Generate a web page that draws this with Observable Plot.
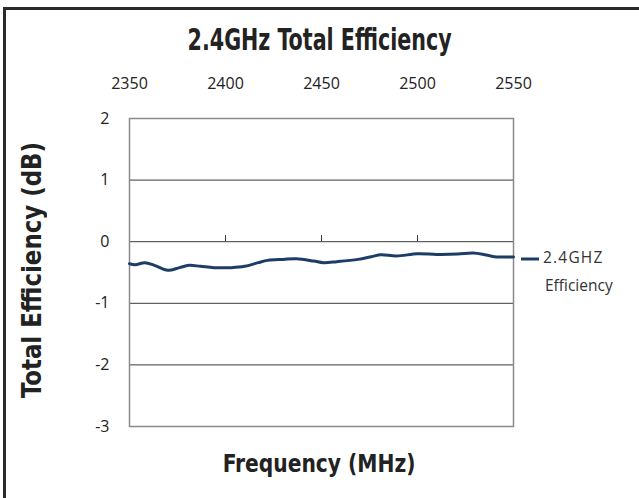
<!DOCTYPE html>
<html>
<head>
<meta charset="utf-8">
<script src="https://cdn.jsdelivr.net/npm/d3@7"></script>
<script src="https://cdn.jsdelivr.net/npm/@observablehq/plot@0.6"></script>
<style>
  html, body { margin: 0; padding: 0; background: #fff; }
  #wrap { position: relative; width: 639px; height: 498px; overflow: hidden; background: #fff; }
  #border { position: absolute; left: 3px; top: 7px; width: 700px; height: 600px;
            border-left: 3px solid #2a2a2a; border-top: 3px solid #2a2a2a; }
  .cond { font-family: "DejaVu Sans Condensed", "DejaVu Sans", sans-serif; font-weight: bold; color: #222;
          display: inline-block; white-space: nowrap; }
  .title { position: absolute; left: 0; width: 639px; text-align: center; top: 22px; }
  .title span { font-size: 30px; transform: scaleX(0.765); }
  .xlabel { position: absolute; left: 0; width: 639px; text-align: center; top: 449px; }
  .xlabel span { font-size: 25px; transform: scaleX(0.9); }
  .ylabel { position: absolute; left: 32px; top: 270px; transform: translate(-50%, -50%) rotate(-90deg); }
  .ylabel span { font-size: 26px; transform: scaleX(0.98); }
  .legend { position: absolute; left: 520px; top: 243px; font-family: "Open Sans", sans-serif;
            font-size: 15.5px; color: #333; line-height: 28px; }
  .legend svg { vertical-align: middle; margin-right: 4px; }
  #chart { position: absolute; left: 0; top: 0; }
</style>
</head>
<body>
<div id="wrap">
  <div id="chart"></div>
  <div id="border"></div>
  <div class="title"><span class="cond">2.4GHz Total Efficiency</span></div>
  <div class="ylabel"><span class="cond">Total Efficiency (dB)</span></div>
  <div class="xlabel"><span class="cond">Frequency (MHz)</span></div>
  <div class="legend">
    <div><svg width="19" height="6"><line x1="1" y1="3" x2="19" y2="3" stroke="#1c3d66" stroke-width="3"/></svg><span style="letter-spacing:1.2px">2.4GHZ</span></div>
    <div style="padding-left:25px">Efficiency</div>
  </div>
</div>
<script>
// Frequency (MHz)
const freq = [2350, 2353, 2358, 2363, 2370, 2376, 2381, 2387, 2394, 2403, 2410, 2417, 2422, 2430,
              2437, 2446, 2451, 2458, 2469, 2476, 2481, 2489, 2500, 2510, 2521, 2529, 2535, 2540, 2550];
// Total efficiency (dB)
const eff = [-0.357, -0.373, -0.340, -0.384, -0.465, -0.421, -0.384, -0.400, -0.421, -0.421, -0.400,
             -0.340, -0.303, -0.287, -0.276, -0.314, -0.340, -0.324, -0.287, -0.243, -0.211, -0.233,
             -0.195, -0.206, -0.201, -0.185, -0.211, -0.243, -0.249];
const xTicks = [2350, 2400, 2450, 2500, 2550];
const yTicks = [2, 1, 0, -1, -2, -3];
const gridY = [1, 0, -1, -2];
const innerXTicks = [2400, 2450, 2500];

const data = freq.map((f, i) => ({f, v: eff[i]}));

const chart = Plot.plot({
  width: 639,
  height: 498,
  marginLeft: 129,
  marginRight: 126,
  marginTop: 118,
  marginBottom: 72,
  x: {domain: [2350, 2550]},
  y: {domain: [-3, 2]},
  style: {fontFamily: "Open Sans, sans-serif", fontSize: "16px", color: "#222", background: "transparent"},
  marks: [
    Plot.ruleY(gridY, {stroke: "#3a3a3a", strokeWidth: 1}),
    Plot.ruleX(innerXTicks, {y1: 0, y2: 0.1, stroke: "#3a3a3a", strokeWidth: 1}),
    Plot.frame({stroke: "#8a8a8a", strokeWidth: 1.5}),
    Plot.axisY(yTicks, {tickSize: 0, tickPadding: 20, label: null, fontSize: 16, tickFormat: d => String(d)}),
    Plot.axisX(xTicks, {anchor: "top", tickSize: 0, tickPadding: 30, label: null, fontSize: 16, tickFormat: d => String(d)}),
    Plot.line(data, {x: "f", y: "v", stroke: "#1c3d66", strokeWidth: 3, curve: "catmull-rom"})
  ]
});
document.getElementById("chart").appendChild(chart);
</script>
</body>
</html>
